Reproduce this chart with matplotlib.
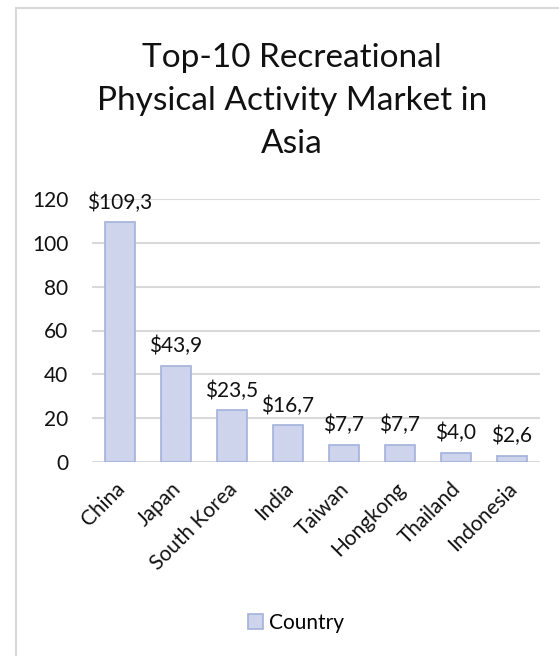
import matplotlib.pyplot as plt
from matplotlib.patches import Rectangle
from matplotlib.transforms import ScaledTranslation

# data
countries = ["China", "Japan", "South Korea", "India", "Taiwan",
             "Hongkong", "Thailand", "Indonesia"]
market = [109.3, 43.9, 23.5, 16.7, 7.7, 7.7, 4.0, 2.6]
yticks = [0, 20, 40, 60, 80, 100, 120]

plt.rcParams['font.family'] = ['Lato', 'DejaVu Sans']

fig = plt.figure(figsize=(5.59, 6.56), dpi=100)
ax = fig.add_axes([92/559, 1 - 462/656, 448/559, 263/656])

# outer chart border (only top/left visible in the crop)
fig.patches.append(Rectangle((16/559, -0.1), 1.2, 1 - 8/656 + 0.1,
                             transform=fig.transFigure, fill=False,
                             edgecolor='#D9D9D9', linewidth=1.5))

x = range(len(countries))
bars = ax.bar(x, market, width=0.52, color='#CDD4EC', edgecolor='#A3B1DA',
              linewidth=1.2, label='Country', zorder=3)

for i, v in enumerate(market):
    ax.annotate("$" + f"{v:.1f}".replace(".", ","), (i, v),
                xytext=(0, 7), textcoords='offset points',
                ha='center', va='bottom', fontsize=15, color='#111111')

ax.set_xlim(-0.5, len(countries) - 0.5)
ax.set_ylim(0, 120)
ax.set_yticks(yticks)
ax.grid(axis='y', color='#D9D9D9', linewidth=1.5, zorder=0)
for s in ax.spines.values():
    s.set_visible(False)
ax.tick_params(length=0, labelsize=15, colors='#111111')
ax.tick_params(axis='y', pad=17)
ax.tick_params(axis='x', pad=12)
ax.set_xticks(list(x))
ax.set_xticklabels(countries, rotation=45, ha='right',
                   rotation_mode='anchor')
shift = ScaledTranslation(-5/100, 0, fig.dpi_scale_trans)
for lbl in ax.get_xticklabels():
    lbl.set_transform(lbl.get_transform() + shift)

fig.text(292/559, 1 - 101/656, "Top-10 Recreational\nPhysical Activity Market in\nAsia",
         ha='center', va='center', fontsize=24, linespacing=1.55, color='#111111')

fig.legend(loc='center', bbox_to_anchor=(296/559, 1 - 623/656), frameon=False,
           fontsize=15, handlelength=0.7, handleheight=0.7, handletextpad=0.3)

fig.savefig("out.png", dpi=100)
